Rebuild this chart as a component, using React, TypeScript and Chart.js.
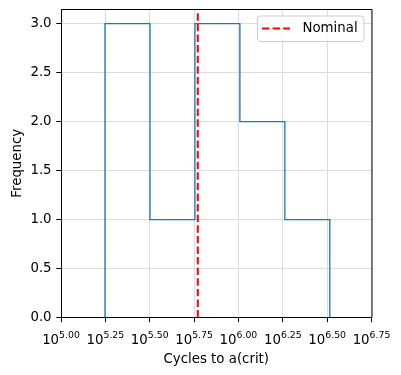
import React, { useEffect, useRef } from "react";
import { Chart, registerables } from "chart.js";

Chart.register(...registerables);

const binEdges = [5.248, 5.5014, 5.7548, 6.0082, 6.2616, 6.515];
const binCounts = [3, 1, 3, 2, 1];
const nominalValue = 5.771;
const xTicks = [5.0, 5.25, 5.5, 5.75, 6.0, 6.25, 6.5, 6.75];
const yTicks = [0, 0.5, 1.0, 1.5, 2.0, 2.5, 3.0];
const xLabelTitle = "Cycles to a(crit)";
const yLabelTitle = "Frequency";
const nominalLabel = "Nominal";

const FONT = "DejaVu Sans";
const FS = 13.33;

export default function App() {
  const ref = useRef<HTMLCanvasElement | null>(null);

  useEffect(() => {
    if (!ref.current) return;
    const yMax = Math.max(...binCounts) * 1.05;

    const histPts: { x: number; y: number }[] = [{ x: binEdges[0], y: 0 }];
    binCounts.forEach((c, i) => {
      histPts.push({ x: binEdges[i], y: c });
      histPts.push({ x: binEdges[i + 1], y: c });
    });
    histPts.push({ x: binEdges[binEdges.length - 1], y: 0 });

    const customPlugin = {
      id: "custom",
      afterDraw(chart: any) {
        const ctx = chart.ctx;
        const { left, right, top, bottom } = chart.chartArea;
        const xs = chart.scales.x;
        // spines top/right
        ctx.save();
        ctx.strokeStyle = "#000";
        ctx.lineWidth = 1;
        ctx.beginPath();
        ctx.moveTo(left, top + 0.5);
        ctx.lineTo(right + 0.5, top + 0.5);
        ctx.lineTo(right + 0.5, bottom);
        ctx.stroke();
        ctx.restore();

        // x tick labels with superscripts
        ctx.save();
        ctx.fillStyle = "#000";
        ctx.textBaseline = "alphabetic";
        ctx.textAlign = "left";
        xTicks.forEach((v) => {
          const px = xs.getPixelForValue(v);
          const base = "10";
          const sup = v.toFixed(2);
          ctx.font = `${FS}px "${FONT}"`;
          const wb = ctx.measureText(base).width;
          ctx.font = `${FS * 0.7}px "${FONT}"`;
          const ws = ctx.measureText(sup).width;
          const x0 = px - (wb + ws) / 2;
          ctx.font = `${FS}px "${FONT}"`;
          ctx.fillText(base, x0, 344);
          ctx.font = `${FS * 0.7}px "${FONT}"`;
          ctx.fillText(sup, x0 + wb, 337.5);
        });
        ctx.restore();

        // legend
        const ds = chart.data.datasets.find((d: any) => d.label === nominalLabel);
        ctx.save();
        const bx = 257.5, by = 16, bw = 106.5, bh = 25.5, r = 3;
        ctx.beginPath();
        ctx.moveTo(bx + r, by);
        ctx.lineTo(bx + bw - r, by);
        ctx.arcTo(bx + bw, by, bx + bw, by + r, r);
        ctx.lineTo(bx + bw, by + bh - r);
        ctx.arcTo(bx + bw, by + bh, bx + bw - r, by + bh, r);
        ctx.lineTo(bx + r, by + bh);
        ctx.arcTo(bx, by + bh, bx, by + bh - r, r);
        ctx.lineTo(bx, by + r);
        ctx.arcTo(bx, by, bx + r, by, r);
        ctx.closePath();
        ctx.fillStyle = "rgba(255,255,255,0.8)";
        ctx.fill();
        ctx.strokeStyle = "#cccccc";
        ctx.lineWidth = 1;
        ctx.stroke();
        ctx.beginPath();
        ctx.setLineDash(ds.borderDash);
        ctx.strokeStyle = ds.borderColor;
        ctx.lineWidth = ds.borderWidth;
        ctx.moveTo(262, 28.5);
        ctx.lineTo(290, 28.5);
        ctx.stroke();
        ctx.setLineDash([]);
        ctx.fillStyle = "#000";
        ctx.font = `${FS}px "${FONT}"`;
        ctx.textBaseline = "middle";
        ctx.fillText(ds.label, 302.5, 28.5);
        ctx.restore();
      },
    };

    const chart = new Chart(ref.current, {
      type: "line",
      data: {
        datasets: [
          {
            label: nominalLabel,
            data: [
              { x: nominalValue, y: 0 },
              { x: nominalValue, y: yMax },
            ],
            borderColor: "#ff0000",
            borderWidth: 2,
            borderDash: [7.4, 3.2],
            pointRadius: 0,
            order: 0,
          },
          {
            label: "hist",
            data: histPts,
            borderColor: "#1f77b4",
            borderWidth: 1.33,
            pointRadius: 0,
            fill: false,
            tension: 0,
            order: 1,
          },
        ],
      },
      options: {
        animation: false,
        responsive: false,
        devicePixelRatio: 1,
        layout: { padding: { top: 9, right: 29.5, left: 0, bottom: 0 } },
        plugins: { legend: { display: false }, tooltip: { enabled: false } },
        font: { family: FONT, size: FS },
        scales: {
          x: {
            type: "linear",
            min: 5,
            max: 6.75,
            afterFit: (s: any) => {
              s.height = 57.5;
              s.paddingLeft = 0;
              s.paddingRight = 0;
            },
            afterBuildTicks: (s: any) => {
              s.ticks = xTicks.map((v) => ({ value: v }));
            },
            ticks: { display: false },
            grid: {
              color: "#dcdcdc",
              lineWidth: 1,
              tickColor: "#000",
              tickLength: 4.7,
              drawTicks: true,
            },
            border: { color: "#000", width: 1 },
            title: {
              display: true,
              text: xLabelTitle,
              color: "#000",
              font: { family: FONT, size: FS },
              padding: { top: 0, bottom: 7 },
            },
          },
          y: {
            type: "linear",
            min: 0,
            max: yMax,
            afterFit: (s: any) => {
              s.width = 61;
              s.paddingTop = 0;
              s.paddingBottom = 0;
            },
            afterBuildTicks: (s: any) => {
              s.ticks = yTicks.map((v) => ({ value: v }));
            },
            ticks: {
              color: "#000",
              font: { family: FONT, size: FS },
              padding: 4.7,
              callback: (v: any) => Number(v).toFixed(1),
            },
            grid: {
              color: "#dcdcdc",
              lineWidth: 1,
              tickColor: "#000",
              tickLength: 4.7,
            },
            border: { color: "#000", width: 1 },
            title: {
              display: true,
              text: yLabelTitle,
              color: "#000",
              font: { family: FONT, size: FS },
              padding: { top: 9.5, bottom: 0 },
            },
          },
        },
      },
      plugins: [customPlugin],
    });
    return () => chart.destroy();
  }, []);

  return (
    <div style={{ position: "fixed", left: 0, top: 0, width: 401, height: 375, background: "#fff" }}>
      <canvas ref={ref} width={401} height={375} style={{ width: 401, height: 375 }} />
    </div>
  );
}
